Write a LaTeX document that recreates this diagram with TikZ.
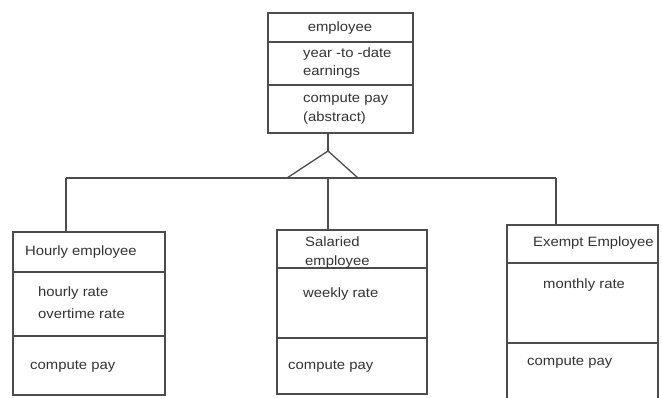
\documentclass[tikz,border=0pt]{standalone}
\usepackage{fontspec}
\setmainfont{Liberation Sans}[FakeStretch=1.1]
\begin{document}
\begin{tikzpicture}[x=1pt,y=-1pt,
  line/.style={draw=black!70,line width=1.3pt},
  classbox/.style={line,rectangle,inner sep=0pt},
  lbl/.style={inner sep=0pt,anchor=west,text=black!80,font=\fontsize{13.5}{15}\selectfont},
  ctr/.style={inner sep=0pt,anchor=center,text=black!80,font=\fontsize{13.5}{15}\selectfont}]
\useasboundingbox (0,0) rectangle (662,398);

% superclass
\node[classbox,minimum width=145pt,minimum height=120pt] (emp) at (340.5,73) {};
\draw[line] (emp.west |- 0,42) -- (emp.east |- 0,42);
\draw[line] (emp.west |- 0,85) -- (emp.east |- 0,85);
\node[ctr] (empname) at (340,28) {employee};
\node[lbl] (empa1) at (303,54) {year -to -date};
\node[lbl] (empa2) at (303,72) {earnings};
\node[lbl] (empm1) at (303,100) {compute pay};
\node[lbl] (empm2) at (303,118) {(abstract)};

% subclasses
\node[classbox,minimum width=152pt,minimum height=163pt] (hourly) at (89,313.5) {};
\draw[line] (hourly.west |- 0,272) -- (hourly.east |- 0,272);
\draw[line] (hourly.west |- 0,336) -- (hourly.east |- 0,336);
\node[lbl] (hname) at (25,252) {Hourly employee};
\node[lbl] (ha1) at (38,293) {hourly rate};
\node[lbl] (ha2) at (38,314) {overtime rate};
\node[lbl] (hm) at (30,367) {compute pay};

\node[classbox,minimum width=150pt,minimum height=164pt] (salaried) at (352,312) {};
\draw[line] (salaried.west |- 0,268) -- (salaried.east |- 0,268);
\draw[line] (salaried.west |- 0,338) -- (salaried.east |- 0,338);
\node[lbl] (sname1) at (305,242) {Salaried};
\node[lbl] (sname2) at (305,262) {employee};
\node[lbl] (sa) at (303,294) {weekly rate};
\node[lbl] (sm) at (288,367) {compute pay};

% this box runs off the lower edge
\coordinate (exbl) at (507,398);
\coordinate (extl) at (507,225);
\coordinate (extr) at (658,225);
\coordinate (exbr) at (658,398);
\draw[line] (exbl) -- (extl) -- (extr) -- (exbr);
\draw[line] (extl |- 0,263) -- (extr |- 0,263);
\draw[line] (extl |- 0,343) -- (extr |- 0,343);
\node[lbl] (xname) at (533,243) {Exempt Employee};
\node[lbl] (xa) at (543,285) {monthly rate};
\node[lbl] (xm) at (527,363) {compute pay};

% generalization
\coordinate (apex) at (328,151);
\coordinate (tl) at (287,178);
\coordinate (tr) at (358,178);
\coordinate (hl) at (66,178);
\coordinate (hm) at (328,178);
\coordinate (hr) at (556,178);
\draw[line] (apex |- emp.south) -- (apex);
\draw[line] (tl) -- (apex) -- (tr);
\draw[line] (hl) -- (hr);
\draw[line] (hl) -- (hl |- hourly.north);
\draw[line] (hm) -- (hm |- salaried.north);
\draw[line] (hr) -- (hr |- extl);
\end{tikzpicture}
\end{document}
